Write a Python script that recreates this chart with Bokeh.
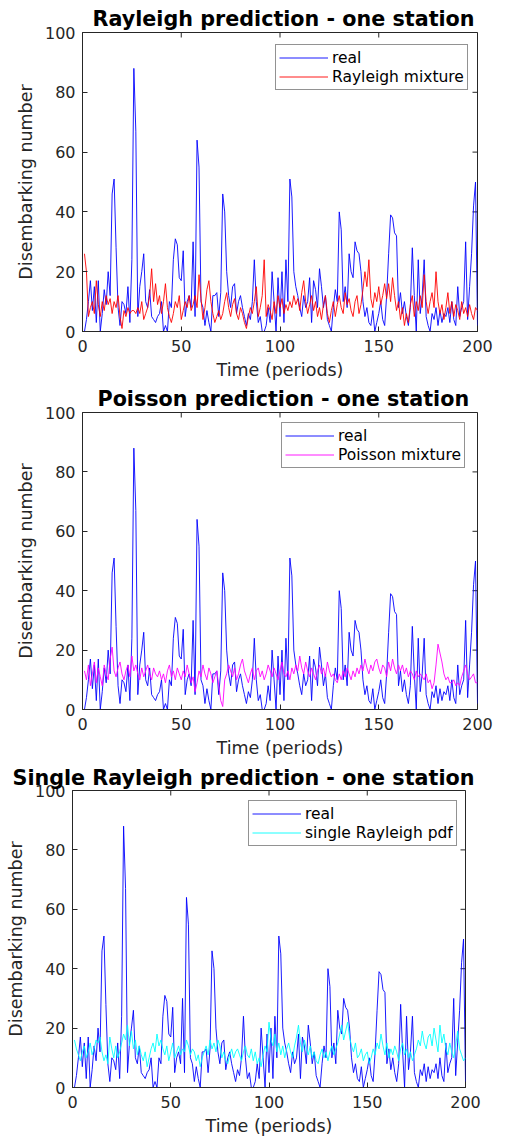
import math
from bokeh.plotting import figure
from bokeh.models import Range1d, FixedTicker, Legend, LegendItem
from bokeh.embed import file_html
from bokeh.resources import INLINE

# ---------------- data ----------------
real = [
    0, 4, 10, 17, 7, 15, 3, 17, 0, 6,
    14, 9, 20, 12, 46, 51, 28, 8, 2, 10,
    9, 6, 15, 3, 24, 88, 67, 5, 15, 20,
    26, 10, 8, 14, 5, 4, 3, 5, 6, 10,
    0, 2, 0, 10, 8, 24, 31, 29, 18, 17,
    27, 5, 10, 12, 8, 30, 5, 64, 55, 10,
    8, 2, 7, 3, 0, 12, 12, 13, 5, 13,
    46, 40, 20, 12, 8, 15, 16, 6, 10, 12,
    8, 5, 2, 6, 4, 10, 24, 10, 3, 5,
    0, 0, 2, 8, 3, 20, 10, 0, 18, 5,
    20, 3, 24, 10, 51, 45, 20, 15, 12, 8,
    5, 12, 8, 10, 18, 3, 17, 14, 8, 21,
    15, 8, 12, 4, 2, 0, 8, 14, 10, 40,
    34, 10, 15, 8, 26, 20, 18, 30, 27, 26,
    20, 10, 5, 8, 3, 2, 7, 0, 3, 6,
    10, 4, 2, 12, 26, 39, 38, 33, 32, 8,
    13, 6, 10, 5, 2, 8, 28, 12, 0, 24,
    6, 12, 24, 5, 2, 0, 6, 4, 8, 2,
    7, 3, 6, 5, 8, 3, 10, 4, 2, 15,
    5, 8, 10, 30, 4, 15, 26, 42, 50, 2,
]

rayleigh_mix = [
    26, 20, 5, 8, 10, 6, 17, 9, 5, 10,
    7, 12, 9, 11, 6, 10, 8, 12, 5, 1,
    7, 5, 8, 6, 7, 7, 6, 8, 6, 10,
    4, 6, 8, 12, 21, 10, 16, 9, 12, 6,
    10, 16, 8, 5, 3, 6, 10, 8, 12, 4,
    7, 10, 8, 12, 7, 9, 12, 8, 19, 11,
    4, 8, 14, 17, 10, 6, 3, 5, 7, 4,
    6, 10, 13, 8, 5, 9, 11, 6, 4, 8,
    6, 3, 1, 5, 8, 6, 10, 15, 5, 8,
    12, 24, 5, 9, 7, 4, 10, 6, 12, 8,
    11, 6, 9, 7, 10, 8, 12, 9, 11, 7,
    13, 17, 10, 6, 9, 12, 7, 10, 5, 8,
    4, 9, 12, 6, 3, 7, 10, 5, 9, 12,
    8, 6, 13, 9, 11, 7, 5, 10, 12, 6,
    9, 14, 20, 15, 24, 11, 8, 13, 10, 15,
    9, 12, 16, 11, 16, 10, 18, 12, 7, 10,
    4, 8, 2, 6, 3, 9, 12, 5, 10, 7,
    12, 8, 19, 10, 6, 10, 13, 8, 20, 10,
    6, 9, 4, 8, 13, 6, 10, 5, 9, 7,
    4, 10, 6, 8, 5, 9, 6, 4, 8, 7,
]

poisson_mix = [
    13, 10, 15, 8, 12, 16, 9, 14, 11, 8,
    15, 12, 10, 17, 21, 13, 11, 14, 16, 12,
    10, 13, 15, 11, 18, 13, 15, 12, 10, 14,
    11, 13, 15, 12, 10, 14, 12, 11, 13, 10,
    12, 9, 13, 15, 11, 13, 10, 14, 12, 10,
    13, 11, 15, 12, 9, 11, 6, 9, 13, 11,
    15, 12, 10, 14, 12, 9, 11, 13, 8, 3,
    1, 10, 12, 15, 13, 11, 14, 10, 12, 15,
    17, 13, 11, 9, 12, 14, 10, 13, 14, 11,
    13, 10, 12, 15, 13, 11, 14, 12, 10, 13,
    16, 12, 11, 13, 10, 14, 12, 15, 13, 18,
    14, 12, 16, 13, 11, 14, 12, 10, 13, 15,
    12, 14, 11, 16, 13, 11, 12, 10, 9, 12,
    10, 13, 11, 14, 12, 10, 13, 11, 14, 12,
    15, 13, 17, 14, 12, 15, 13, 16, 17, 14,
    12, 15, 14, 11, 16, 13, 17, 14, 12, 15,
    13, 15, 12, 14, 11, 13, 12, 10, 13, 11,
    12, 11, 10, 12, 9, 10, 7, 9, 15, 22,
    19, 16, 12, 10, 11, 9, 9, 10, 8, 9,
    8, 11, 13, 15, 12, 10, 11, 12, 9, 9,
]

single_rayleigh = [
    16, 13, 11, 9, 12, 14, 10, 12, 15, 11,
    13, 16, 15, 17, 12, 9, 11, 8, 17, 13,
    10, 14, 10, 12, 15, 18, 16, 21, 14, 19,
    13, 16, 11, 14, 11, 9, 12, 7, 10, 13,
    15, 12, 18, 14, 16, 13, 11, 14, 9, 12,
    15, 10, 12, 14, 11, 13, 12, 16, 14, 11,
    13, 12, 9, 11, 7, 10, 12, 14, 11, 16,
    13, 15, 12, 16, 14, 10, 12, 9, 8, 11,
    13, 10, 12, 13, 11, 9, 12, 14, 11, 10,
    13, 9, 12, 8, 10, 7, 11, 14, 12, 22,
    16, 14, 18, 12, 15, 11, 14, 10, 13, 15,
    12, 10, 14, 17, 21, 15, 12, 16, 13, 11,
    14, 10, 12, 9, 8, 11, 13, 10, 12, 9,
    12, 14, 11, 13, 15, 18, 21, 16, 19, 22,
    17, 14, 12, 15, 10, 11, 13, 9, 11, 12,
    8, 10, 13, 11, 15, 13, 18, 14, 11, 15,
    10, 13, 11, 14, 12, 9, 13, 15, 11, 13,
    10, 12, 9, 11, 13, 16, 14, 19, 15, 13,
    17, 18, 14, 20, 16, 12, 21, 15, 18, 13,
    11, 15, 12, 10, 14, 19, 13, 11, 9, 10,
]

x_ticks = [0, 50, 100, 150, 200]
y_ticks = [0, 20, 40, 60, 80, 100]
x_min, x_max = 0, 200
y_min, y_max = 0, 100

titles = ["Rayleigh prediction - one station",
          "Poisson prediction - one station",
          "Single Rayleigh prediction - one station"]
pred_labels = ["Rayleigh mixture", "Poisson mixture", "single Rayleigh pdf"]
pred_colors = ["#ff0000", "#ff00ff", "#00ffff"]
preds = [rayleigh_mix, poisson_mix, single_rayleigh]

FONT = "DejaVu Sans"
AX = "#262626"

# per panel: (height, left, right, top, bottom, legend_x, title_offset, title_standoff)
panels = [(383, 82, 31, 32, 52, 193, 10, 3),
          (380, 82, 31, 27, 54, 199, 15, 3),
          (377, 72, 43, 25, 53, 176, -60, 1)]

figs = []
for i in range(3):
    h, l, r, t, b, lx, toff, tst = panels[i]
    p = figure(width=508, height=h, output_backend="svg", toolbar_location=None,
               x_range=Range1d(x_min, x_max), y_range=Range1d(y_min, y_max),
               min_border_left=l, min_border_right=r,
               min_border_top=t, min_border_bottom=b)
    p.grid.visible = False
    p.outline_line_color = AX
    p.outline_line_width = 1
    p.background_fill_color = "white"
    p.border_fill_color = "white"

    p.title.text = titles[i]
    p.title.text_font = FONT
    p.title.text_font_size = "20.7px"
    p.title.text_font_style = "bold"
    p.title.text_color = "black"
    p.title.align = "left"
    p.title.offset = toff
    p.title.standoff = tst

    p.xaxis.ticker = FixedTicker(ticks=x_ticks)
    p.yaxis.ticker = FixedTicker(ticks=y_ticks)
    for ax in p.xaxis + p.yaxis:
        ax.minor_tick_line_color = None
        ax.major_tick_in = 5
        ax.major_tick_out = 0
        ax.major_tick_line_color = AX
        ax.axis_line_color = AX
        ax.major_label_text_font = FONT
        ax.major_label_text_font_size = "16px"
        ax.major_label_text_color = AX
        ax.axis_label_text_font = FONT
        ax.axis_label_text_font_size = "17.5px"
        ax.axis_label_text_font_style = "normal"
        ax.axis_label_text_color = AX
    p.xaxis.axis_label = "Time (periods)"
    p.yaxis.axis_label = "Disembarking number"
    p.xaxis.major_label_standoff = 8
    p.xaxis.axis_label_standoff = 5
    p.yaxis.major_label_standoff = 7
    p.yaxis.axis_label_standoff = 6

    # mirrored inward ticks on the top and right sides (box on)
    p.ray(x=x_ticks, y=[y_max] * len(x_ticks), length=5, length_units="screen",
          angle=-math.pi / 2, line_color=AX, line_width=1)
    p.ray(x=[x_max] * len(y_ticks), y=y_ticks, length=5, length_units="screen",
          angle=math.pi, line_color=AX, line_width=1)

    xs = list(range(1, len(real) + 1))
    xp = list(range(1, len(preds[i]) + 1))
    r_real = p.line(xs, real, line_color="#0000ff", line_width=0.9)
    r_pred = p.line(xp, preds[i], line_color=pred_colors[i], line_width=0.9)

    legend = Legend(items=[LegendItem(label="real", renderers=[r_real]),
                           LegendItem(label=pred_labels[i], renderers=[r_pred])],
                    location=(lx, 241))
    legend.label_text_font = FONT
    legend.label_text_font_size = "15.5px"
    legend.label_text_color = "black"
    legend.glyph_width = 49
    legend.glyph_height = 19
    legend.label_height = 19
    legend.label_standoff = 4
    legend.padding = 3
    legend.spacing = 0
    legend.margin = 0
    legend.border_line_color = AX
    legend.border_line_width = 1
    legend.background_fill_color = "white"
    legend.background_fill_alpha = 1
    p.add_layout(legend, "center")
    figs.append(p)

open("out.html", "w").write(file_html(figs, INLINE))
